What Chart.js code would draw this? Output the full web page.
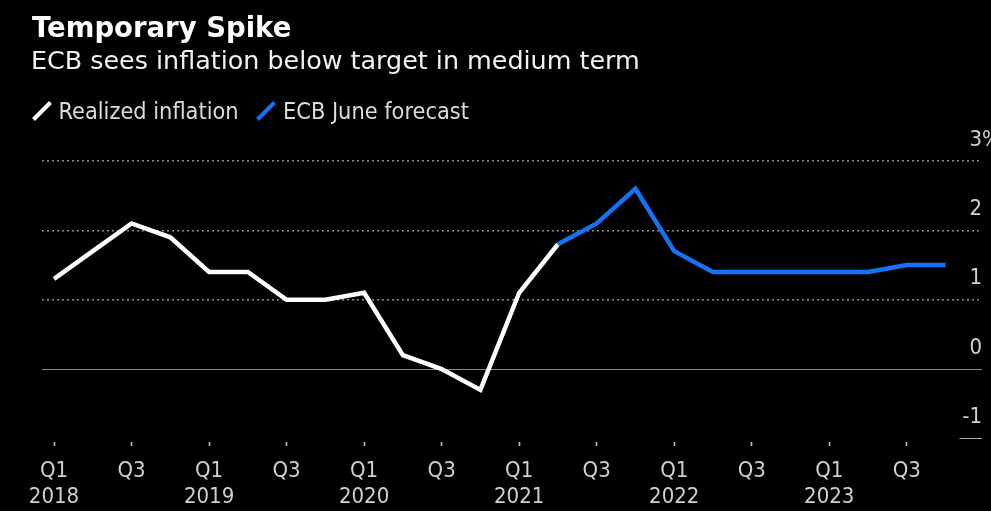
<!DOCTYPE html>
<html><head><meta charset="utf-8">
<script src="https://cdn.jsdelivr.net/npm/chart.js@4.4.0/dist/chart.umd.min.js"></script>
<style>
html,body{margin:0;padding:0;background:#000;width:991px;height:511px;overflow:hidden}
#wrap{position:relative;width:991px;height:511px}
canvas{position:absolute;left:0;top:0}
.t{position:absolute;white-space:nowrap;line-height:normal}
#title{left:32px;top:10.5px;font:bold 27.5px 'DejaVu Sans';color:#fff}
#sub{left:31px;top:45px;font:25.4px 'DejaVu Sans';color:#f2f2f2}
.leg{top:96.8px;font:23.3px 'DejaVu Sans Condensed';color:#dcdcdc}
.mk{position:absolute;width:4px;height:24px;transform:rotate(45deg)}
</style></head>
<body>
<div id="wrap">
<canvas id="c" width="991" height="511"></canvas>
<div class="t" id="title">Temporary Spike</div>
<div class="t" id="sub">ECB sees inflation below target in medium term</div>
<div class="mk" style="left:39.5px;top:98.5px;background:#fff"></div>
<div class="t leg" style="left:58.5px">Realized inflation</div>
<div class="mk" style="left:263.9px;top:98.5px;background:#1473f5"></div>
<div class="t leg" style="left:283px">ECB June forecast</div>
</div>
<script>
const quarters = ['Q1 2018','Q2 2018','Q3 2018','Q4 2018','Q1 2019','Q2 2019','Q3 2019','Q4 2019',
  'Q1 2020','Q2 2020','Q3 2020','Q4 2020','Q1 2021','Q2 2021','Q3 2021','Q4 2021',
  'Q1 2022','Q2 2022','Q3 2022','Q4 2022','Q1 2023','Q2 2023','Q3 2023','Q4 2023'];
const realized = [1.3, 1.7, 2.1, 1.9, 1.4, 1.4, 1.0, 1.0, 1.1, 0.2, 0.0, -0.3, 1.1, 1.8];
const forecastStartQuarter = 'Q2 2021';
const forecast = [1.8, 2.1, 2.6, 1.7, 1.4, 1.4, 1.4, 1.4, 1.4, 1.5, 1.5];
const xTickLabels = [['Q1','2018'],['Q3'],['Q1','2019'],['Q3'],['Q1','2020'],['Q3'],
  ['Q1','2021'],['Q3'],['Q1','2022'],['Q3'],['Q1','2023'],['Q3']];
const yTicks = [-1, 0, 1, 2, 3];

const forecastStart = quarters.indexOf(forecastStartQuarter);
const Y_LABEL_OFFSET = -21;
const FONT = "'DejaVu Sans Condensed', 'DejaVu Sans', sans-serif";

const percentPlugin = {
  id: 'percent',
  afterDraw(chart) {
    const s = chart.scales.y;
    const ctx = chart.ctx;
    ctx.save();
    ctx.font = "22px " + FONT;
    ctx.fillStyle = '#d0d0d0';
    ctx.textAlign = 'left';
    ctx.textBaseline = 'middle';
    ctx.fillText('%', chart.chartArea.right, s.getPixelForValue(yTicks[yTicks.length - 1]) + Y_LABEL_OFFSET);
    ctx.restore();
  }
};

function gridColor(c) {
  if (!c.tick) return '#8c8c8c';
  if (c.tick.value === yTicks[0]) return '#ababab';
  if (c.tick.value === 0) return '#8a8a8a';
  return '#8c8c8c';
}
function gridWidth(c) {
  if (c.tick && (c.tick.value === 0 || c.tick.value === yTicks[0])) return 1;
  return 1.5;
}
function gridDash(c) {
  if (!c.tick) return [2, 3];
  if (c.tick.value === 0) return [];
  if (c.tick.value === yTicks[0]) {
    const a = c.chart.chartArea;
    const w = a.right - a.left;
    return [0, w - 22.5, 22.5];
  }
  return [2, 3];
}

new Chart(document.getElementById('c'), {
  type: 'line',
  data: {
    datasets: [
      {
        label: 'Realized inflation',
        data: realized.map((v, i) => ({x: i, y: v})),
        borderColor: '#ffffff',
        borderWidth: 4.5,
        pointRadius: 0,
        tension: 0,
        order: 1
      },
      {
        label: 'ECB June forecast',
        data: forecast.map((v, i) => ({x: i + forecastStart, y: v})),
        borderColor: '#1473f5',
        borderWidth: 4.5,
        pointRadius: 0,
        tension: 0,
        order: 0
      }
    ]
  },
  options: {
    responsive: false,
    animation: false,
    devicePixelRatio: 1,
    layout: {padding: {left: 42, right: 9, top: 161, bottom: -11.7}},
    plugins: {legend: {display: false}, tooltip: {enabled: false}, title: {display: false}},
    scales: {
      x: {
        type: 'linear',
        min: -0.31,
        max: quarters.length - 1 + 0.94,
        afterBuildTicks: (axis) => { axis.ticks = xTickLabels.map((l, k) => ({value: k * 2})); },
        grid: {drawOnChartArea: false, drawTicks: true, tickLength: 4, tickColor: '#c4c4c4', tickWidth: 1.6},
        border: {display: false},
        ticks: {
          autoSkip: false, maxRotation: 0, minRotation: 0, padding: 12,
          color: '#d0d0d0',
          font: {family: FONT, size: 22, lineHeight: 1.2},
          callback: (v) => xTickLabels[Math.round(v / 2)]
        }
      },
      y: {
        type: 'linear',
        position: 'right',
        min: -1.05,
        max: 3,
        afterBuildTicks: (axis) => { axis.ticks = yTicks.map(v => ({value: v})); },
        grid: {
          drawOnChartArea: true,
          drawTicks: false,
          lineWidth: gridWidth,
          color: gridColor
        },
        border: {display: false, dash: gridDash},
        ticks: {
          mirror: true,
          crossAlign: 'near',
          padding: 0,
          labelOffset: Y_LABEL_OFFSET,
          color: '#d0d0d0',
          font: {family: FONT, size: 22},
          callback: (v) => String(v)
        }
      }
    }
  },
  plugins: [percentPlugin]
});
</script>
</body></html>
